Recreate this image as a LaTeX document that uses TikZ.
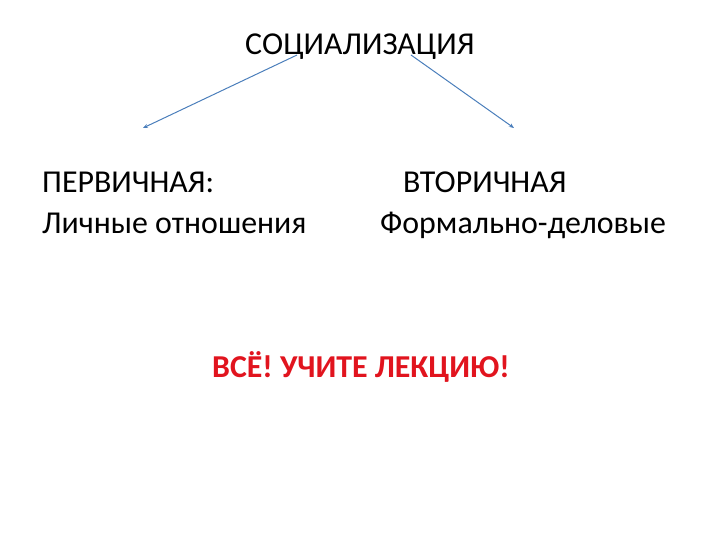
\documentclass[tikz,border=0pt]{standalone}
\usepackage{fontspec}
\setmainfont{Carlito}
\usetikzlibrary{arrows.meta}
\definecolor{lineBlue}{RGB}{74,126,187}
\definecolor{alarmRed}{RGB}{225,20,30}
\tikzset{
  word/.style={inner sep=0pt,anchor=base west,font=\fontsize{32}{38}\selectfont},
  branch/.style={draw=lineBlue,line width=1pt,-{Stealth[length=5pt,width=4pt]}}
}
\begin{document}
\begin{tikzpicture}[x=1bp,y=-1bp]
    \useasboundingbox (0,0) rectangle (720,540);

    \node[word] (title) at (245,55) {СОЦИАЛИЗАЦИЯ};

    \node[word] (first) at (42,193) {ПЕРВИЧНАЯ:};
    \node[word] (firstText) at (42,234) {Личные отношения};
    \node[word] (second) at (403,193) {ВТОРИЧНАЯ};
    \node[word] (secondText) at (380,234) {Формально-деловые};

    \node[word,font=\fontsize{32}{38}\selectfont\bfseries,text=alarmRed] (note) at (212,377) {ВСЁ! УЧИТЕ ЛЕКЦИЮ!};

    % free ends of the two branches
    \coordinate (leftStart) at (297,55);
    \coordinate (leftTip) at (143,128);
    \coordinate (rightStart) at (411,55);
    \coordinate (rightTip) at (514,128);

    \draw[branch] (leftStart) -- (leftTip);
    \draw[branch] (rightStart) -- (rightTip);
\end{tikzpicture}
\end{document}
